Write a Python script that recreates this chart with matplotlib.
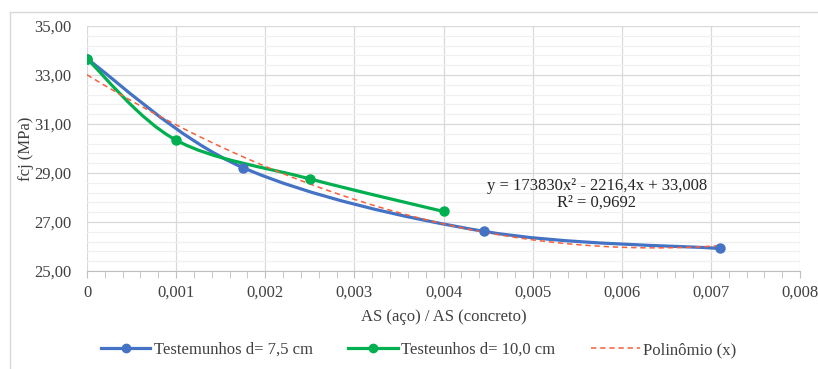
import numpy as np
import matplotlib
matplotlib.use("Agg")
import matplotlib.pyplot as plt
from matplotlib.path import Path
from matplotlib.patches import PathPatch
from matplotlib.lines import Line2D
from matplotlib.ticker import MultipleLocator, FixedLocator, FuncFormatter

# data
x_75 = [0.0, 0.00175, 0.00445, 0.0071]
y_75 = [33.66, 29.22, 26.62, 25.92]
x_10 = [0.0, 0.001, 0.0025, 0.004]
y_10 = [33.66, 30.34, 28.76, 27.43]
poly_coef = [173830, -2216.4, 33.008]
poly_xmax = 0.0071
y_ticks = [25, 27, 29, 31, 33, 35]

labels = ["Testemunhos d= 7,5 cm", "Testeunhos d= 10,0 cm", "Polinômio (x)"]
eq_text = "y = 173830x² - 2216,4x + 33,008\nR² = 0,9692"

BLUE = "#4472C4"
GREEN = "#00B050"
RED = "#F8603A"
TXT = "#404040"
FS = 12

plt.rcParams['font.family'] = ['Liberation Serif', 'DejaVu Serif']


def smooth_path(xs, ys):
    '''
    excel-like smoothed line: cubic bezier through the points
    '''
    p = np.column_stack([xs, ys])
    n = len(p)
    verts = [p[0]]
    codes = [Path.MOVETO]
    for i in range(n - 1):
        p0 = p[i - 1] if i > 0 else p[i]
        p3 = p[i + 2] if i + 2 < n else p[i + 1]
        c1 = p[i] + (p[i + 1] - p0) / 6
        c2 = p[i + 1] - (p3 - p[i]) / 6
        verts += [c1, c2, p[i + 1]]
        codes += [Path.CURVE4] * 3
    return Path(verts, codes)


fig = plt.figure(figsize=(8.18, 3.69), dpi=100)
ax = fig.add_axes([87 / 818, 1 - 271 / 369, (800 - 87) / 818, (271 - 26) / 369])

# outer chart frame (cropped on the right and bottom)
fig.add_artist(Line2D([10 / 818, 10 / 818], [0, 1 - 12 / 369], transform=fig.transFigure, color="#d9d9d9", lw=1))
fig.add_artist(Line2D([10 / 818, 1], [1 - 12 / 369, 1 - 12 / 369], transform=fig.transFigure, color="#d9d9d9", lw=1))

ax.set_xlim(0, 0.008)
ax.set_ylim(25, 35)
ax.xaxis.set_major_locator(MultipleLocator(0.001))
ax.xaxis.set_minor_locator(MultipleLocator(0.0002))
ax.yaxis.set_major_locator(FixedLocator(y_ticks))
ax.yaxis.set_minor_locator(MultipleLocator(0.4, offset=0.2))
ax.xaxis.set_major_formatter(FuncFormatter(lambda v, p: "0" if abs(v) < 1e-12 else ("%.3f" % v).replace(".", ",")))
ax.yaxis.set_major_formatter(FuncFormatter(lambda v, p: ("%.2f" % v).replace(".", ",")))

ax.grid(which="major", color="#d9d9d9", lw=0.9)
ax.grid(which="minor", axis="y", color="#f0f0f0", lw=0.9)
ax.set_axisbelow(True)
for s in ["top", "right", "left"]:
    ax.spines[s].set_visible(False)
ax.spines["bottom"].set_color("#bfbfbf")
ax.tick_params(axis="y", which="both", length=0, labelsize=FS, pad=11, labelcolor=TXT)
ax.tick_params(axis="x", which="both", length=5, color="#bfbfbf")
ax.tick_params(axis="x", which="major", labelsize=FS, pad=5, labelcolor=TXT)

# trendline
xt = np.linspace(0, poly_xmax, 200)
ax.plot(xt, np.polyval(poly_coef, xt), color=RED, lw=1.1, ls=(0, (3.5, 2.5)), zorder=4)

ax.add_patch(PathPatch(smooth_path(x_75, y_75), fill=False, edgecolor=BLUE, lw=2.3, zorder=3))
ax.plot(x_75, y_75, "o", color=BLUE, ms=6.5, zorder=5)
ax.add_patch(PathPatch(smooth_path(x_10, y_10), fill=False, edgecolor=GREEN, lw=2.3, zorder=3))
ax.plot(x_10, y_10, "o", color=GREEN, ms=6.5, zorder=5)

ax.text(0.00572, 28.13, eq_text, ha="center", va="center", fontsize=FS, color="#262626", linespacing=1.0)

ax.set_xlabel("AS (aço) / AS (concreto)", fontsize=FS, color=TXT, labelpad=6)
ax.set_ylabel("fcj (MPa)", fontsize=FS, color=TXT)
ax.yaxis.set_label_coords(-0.0745, 0.5)

handles = [Line2D([], [], color=BLUE, lw=2.3, marker="o", ms=6),
           Line2D([], [], color=GREEN, lw=2.3, marker="o", ms=6),
           Line2D([], [], color=RED, lw=1.1, ls=(0, (3.5, 2.5)))]
leg = fig.legend(handles, labels, loc="center", bbox_to_anchor=(0.512, 1 - 350 / 369), ncol=3,
                 frameon=False, fontsize=FS, handlelength=2.95, handletextpad=0.2, columnspacing=2.15)
for t in leg.get_texts():
    t.set_color(TXT)

fig.savefig("out.png", dpi=100)
